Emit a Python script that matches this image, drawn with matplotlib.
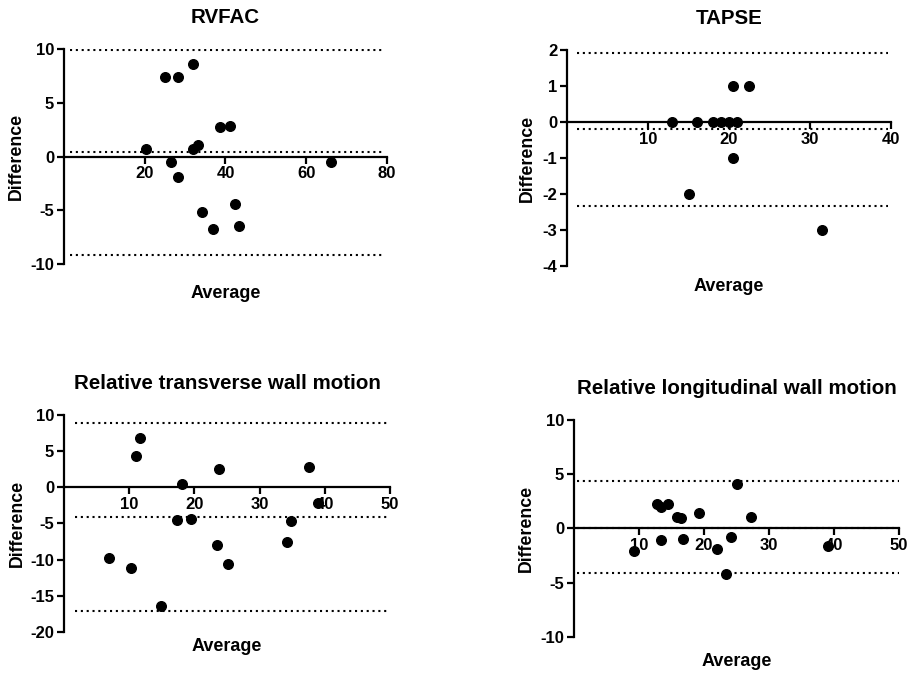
import matplotlib
matplotlib.use("Agg")
import matplotlib.pyplot as plt

plt.rcParams['font.family'] = ['Liberation Sans', 'DejaVu Sans']
plt.rcParams['font.weight'] = 'bold'

# RVFAC
rvfac_avg = [20.2, 25.0, 28.3, 31.9, 26.4, 28.3, 31.9, 33.1, 38.7, 41.2, 34.2, 36.8, 42.3, 43.3, 66.2]
rvfac_diff = [0.71, 7.35, 7.35, 8.6, -0.53, -1.95, 0.71, 1.09, 2.7, 2.82, -5.18, -6.7, -4.43, -6.42, -0.47]
rvfac_lines = [9.9, 0.4, -9.2]

# TAPSE
tapse_avg = [13.0, 16.0, 18.0, 19.0, 20.0, 21.0, 20.5, 22.5, 20.5, 15.0, 31.5]
tapse_diff = [0, 0, 0, 0, 0, 0, 1, 1, -1, -2, -3]
tapse_lines = [1.91, -0.2, -2.33]

# Relative transverse wall motion
trans_avg = [11.6, 11.0, 18.1, 23.7, 37.6, 38.9, 17.4, 19.5, 34.8, 23.4, 34.2, 25.2, 6.9, 10.3, 14.9]
trans_diff = [6.84, 4.35, 0.46, 2.5, 2.77, -2.13, -4.58, -4.35, -4.67, -7.95, -7.49, -10.59, -9.75, -11.1, -16.46]
trans_lines = [8.83, -4.11, -17.06]

# Relative longitudinal wall motion
long_avg = [12.7, 13.4, 14.4, 15.8, 16.5, 19.3, 25.1, 27.2, 13.4, 16.7, 24.1, 9.2, 22.0, 23.4, 39.0]
long_diff = [2.25, 1.94, 2.22, 1.07, 0.95, 1.44, 4.07, 1.07, -1.08, -0.99, -0.78, -2.1, -1.91, -4.22, -1.57]
long_lines = [4.41, 0.08, -4.07]

panels = [
    dict(title="RVFAC", x=rvfac_avg, y=rvfac_diff, lines=rvfac_lines,
         xlim=(0, 80), xticks=[20, 40, 60, 80], ylim=(-10, 10), yticks=[-10, -5, 0, 5, 10],
         rect=[0.0700, 0.6083, 0.3534, 0.3190], xl_y=-0.135, yl_x=-0.146, span=(0.02, 0.985)),
    dict(title="TAPSE", x=tapse_avg, y=tapse_diff, lines=tapse_lines,
         xlim=(0, 40), xticks=[10, 20, 30, 40], ylim=(-4, 2), yticks=[-4, -3, -2, -1, 0, 1, 2],
         rect=[0.6204, 0.6053, 0.3545, 0.3205], xl_y=-0.097, yl_x=-0.123, span=(0.03, 0.99)),
    dict(title="Relative transverse wall motion", x=trans_avg, y=trans_diff, lines=trans_lines,
         xlim=(0, 50), xticks=[10, 20, 30, 40, 50], ylim=(-20, 10), yticks=[-20, -15, -10, -5, 0, 5, 10],
         rect=[0.0700, 0.0623, 0.3567, 0.3220], xl_y=-0.069, yl_x=-0.144, span=(0.035, 1.0)),
    dict(title="Relative longitudinal wall motion", x=long_avg, y=long_diff, lines=long_lines,
         xlim=(0, 50), xticks=[10, 20, 30, 40, 50], ylim=(-10, 10), yticks=[-10, -5, 0, 5, 10],
         rect=[0.6280, 0.0549, 0.3556, 0.3220], xl_y=-0.115, yl_x=-0.145, span=(0.01, 1.0)),
]

fig = plt.figure(figsize=(9.14, 6.74), dpi=100)

for p in panels:
    ax = fig.add_axes(p["rect"])
    ax.set_xlim(*p["xlim"])
    ax.set_ylim(*p["ylim"])
    for v in p["lines"]:
        ax.axhline(v, xmin=p["span"][0], xmax=p["span"][1], color="black",
                   linestyle=(0, (1, 1.8)), linewidth=1.5, zorder=1)
    ax.scatter(p["x"], p["y"], s=48, color="black", zorder=3, clip_on=False)

    for side in ("top", "right"):
        ax.spines[side].set_visible(False)
    ax.spines["left"].set_linewidth(1.6)
    ax.spines["bottom"].set_linewidth(1.6)
    ax.spines["bottom"].set_position(("data", 0))

    ax.set_xticks(p["xticks"])
    ax.set_yticks(p["yticks"])
    ax.set_yticklabels([str(t) for t in p["yticks"]])
    ax.tick_params(axis="both", length=5, width=1.6, labelsize=12, pad=2, direction="out")
    for lbl in ax.get_xticklabels() + ax.get_yticklabels():
        lbl.set_fontweight("bold")

    ax.set_title(p["title"], fontsize=14.8, fontweight="bold", pad=18.5)
    ax.text(0.5, p["xl_y"], "Average", transform=ax.transAxes, ha="center", va="center",
            fontsize=13, fontweight="bold")
    ax.text(p["yl_x"], 0.5, "Difference", transform=ax.transAxes, ha="center", va="center",
            rotation=90, fontsize=12.8, fontweight="bold")

fig.savefig("out.png", dpi=100)
